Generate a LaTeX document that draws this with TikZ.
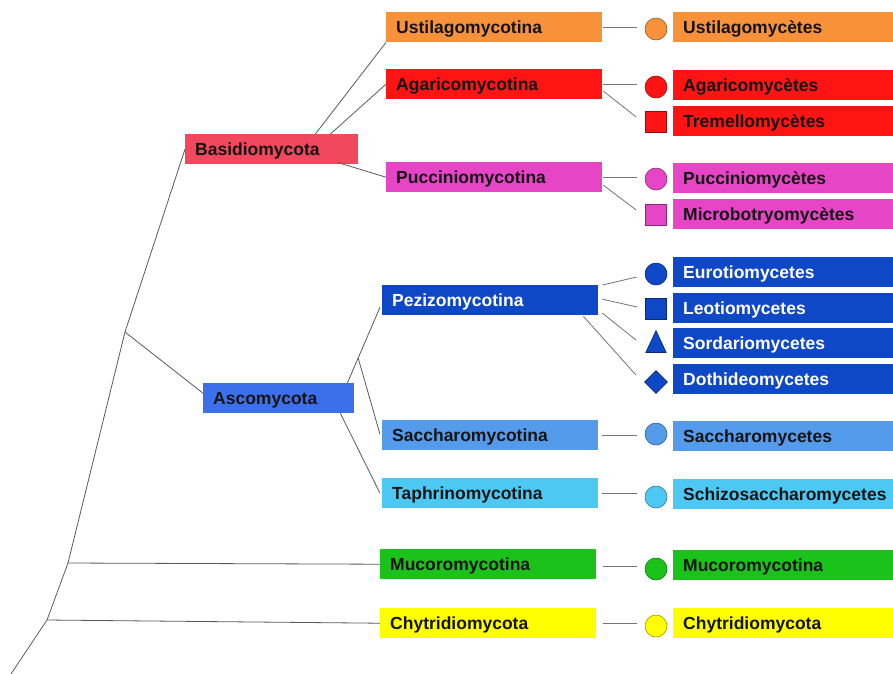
\documentclass[tikz,border=0pt]{standalone}
\usepackage{fontspec}
\setmainfont{Liberation Sans}
\usetikzlibrary{shapes.geometric,calc}
\definecolor{cOra}{HTML}{F7923A}
\definecolor{cRed}{HTML}{FF1414}
\definecolor{cMag}{HTML}{E646C6}
\definecolor{cBas}{HTML}{F2485D}
\definecolor{cDbl}{HTML}{0F48C6}
\definecolor{cAsc}{HTML}{3C70EA}
\definecolor{cSac}{HTML}{559BEB}
\definecolor{cTap}{HTML}{4DC8F2}
\definecolor{cGrn}{HTML}{1AC21A}
\definecolor{cYel}{HTML}{FFFF00}
\definecolor{cLine}{HTML}{5A5A5A}
\definecolor{cTxt}{HTML}{141414}
\begin{document}
\begin{tikzpicture}[x=1pt,y=-1pt,
  lab/.style={anchor=north west, inner xsep=10pt, inner ysep=0pt, minimum height=30pt,
    align=left, text=cTxt, font=\bfseries\fontsize{17.5}{21}\selectfont,
    text height=14.8pt, text depth=1.4pt},
  mid/.style={lab, text width=196pt},
  rgt/.style={lab, text width=200pt},
  sym/.style={inner sep=0pt, line width=0.6pt},
  dot/.style={sym, circle, minimum size=22pt, fill=#1, draw=#1!60!black},
  sq/.style={sym, rectangle, minimum size=21pt, fill=#1, draw=#1!60!black},
  tri/.style={sym, isosceles triangle, isosceles triangle apex angle=50,
    shape border rotate=90, minimum height=22pt, fill=#1, draw=#1!60!black},
  dia/.style={sym, diamond, minimum size=23pt, fill=#1, draw=#1!60!black},
  tree/.style={draw=cLine, line width=0.8pt},
  conn/.style={draw=cLine!85, line width=0.8pt}]
\fill[white] (0,0) rectangle (893,673);
\useasboundingbox (0,0) rectangle (893,673);

% middle column
\node[mid, fill=cOra] (m1) at (386,12) {Ustilagomycotina};
\node[mid, fill=cRed] (m2) at (386,69) {Agaricomycotina};
\node[mid, fill=cMag] (m3) at (386,162) {Pucciniomycotina};
\node[lab, text width=153pt, fill=cBas] (bas) at (185,134) {Basidiomycota};
\node[mid, fill=cDbl, text=white] (m4) at (382,285) {Pezizomycotina};
\node[lab, text width=131pt, fill=cAsc] (asc) at (203,383) {Ascomycota};
\node[mid, fill=cSac] (m5) at (382,420) {Saccharomycotina};
\node[mid, fill=cTap] (m6) at (382,478) {Taphrinomycotina};
\node[mid, fill=cGrn] (m7) at (380,549) {Mucoromycotina};
\node[mid, fill=cYel] (m8) at (380,608) {Chytridiomycota};

% right column
\node[rgt, fill=cOra] (r1) at (673,12) {Ustilagomycètes};
\node[rgt, fill=cRed] (r2) at (673,70) {Agaricomycètes};
\node[rgt, fill=cRed] (r3) at (673,106) {Tremellomycètes};
\node[rgt, fill=cMag] (r4) at (673,163) {Pucciniomycètes};
\node[rgt, fill=cMag] (r5) at (673,199) {Microbotryomycètes};
\node[rgt, fill=cDbl, text=white] (r6) at (673,257) {Eurotiomycetes};
\node[rgt, fill=cDbl, text=white] (r7) at (673,293) {Leotiomycetes};
\node[rgt, fill=cDbl, text=white] (r8) at (673,328) {Sordariomycetes};
\node[rgt, fill=cDbl, text=white] (r9) at (673,364) {Dothideomycetes};
\node[rgt, fill=cSac] (r10) at (673,421) {Saccharomycetes};
\node[rgt, fill=cTap] (r11) at (673,479) {Schizosaccharomycetes};
\node[rgt, fill=cGrn] (r12) at (673,550) {Mucoromycotina};
\node[rgt, fill=cYel] (r13) at (673,608) {Chytridiomycota};

% symbols
\node[dot=cOra] (s1) at (656,29) {};
\node[dot=cRed] (s2) at (656,87) {};
\node[sq=cRed] (s3) at (656,122) {};
\node[dot=cMag] (s4) at (656,179) {};
\node[sq=cMag] (s5) at (656,215) {};
\node[dot=cDbl] (s6) at (656,274) {};
\node[sq=cDbl] (s7) at (656,309) {};
\node[tri=cDbl] (s8) at (656,346) {};
\node[dia=cDbl] (s9) at (656,382) {};
\node[dot=cSac] (s10) at (656,434) {};
\node[dot=cTap] (s11) at (656,497) {};
\node[dot=cGrn] (s12) at (656,569) {};
\node[dot=cYel] (s13) at (656,626) {};

% connectors to symbols
\draw[conn] ([xshift=1pt]m1.east) -- ([xshift=-8pt]m1.east -| s1.west);
\draw[conn] ([xshift=1pt]m2.east) -- ([xshift=-8pt]m2.east -| s2.west);
\draw[conn] ($(m2.east)+(1,7)$) -- ($(s3.west)+(-9,-5)$);
\draw[conn] ([xshift=1pt]m3.east) -- ([xshift=-8pt]m3.east -| s4.west);
\draw[conn] ($(m3.east)+(1,8)$) -- ($(s5.west)+(-9,-5)$);
\draw[conn] ($(m4.north east)+(4,0)$) -- ($(s6.west)+(-8,3)$);
\draw[conn] ($(m4.east)+(4,-1)$) -- ($(s7.west)+(-8,-2)$);
\draw[conn] ($(m4.east)+(4,13)$) -- ($(s8.center)+(-20,-6)$);
\draw[conn] ($(m4.south east)+(-15,1)$) -- ($(s9.center)+(-20,-7)$);
\draw[conn] ([xshift=4pt]m5.east) -- ([xshift=-8pt]m5.east -| s10.west);
\draw[conn] ([xshift=4pt]m6.east) -- ([xshift=-8pt]m6.east -| s11.west);
\draw[conn] ($(m7.east)+(7,2)$) -- ($(m7.east -| s12.west)+(-8,2)$);
\draw[conn] ([xshift=7pt]m8.east) -- ([xshift=-8pt]m8.east -| s13.west);

% tree
\coordinate (root) at (11,674);
\coordinate (c1) at (47,620);
\coordinate (c2) at (68,563);
\coordinate (c3) at (125,332);
\draw[tree] (root) -- (c1) -- (c2) -- (c3) -- (bas.west);
\draw[tree] (c3) -- ($(asc.west)+(0,-5)$);
\draw[tree] (c2) -- (m7.west);
\draw[tree] (c1) -- (m8.west);
\draw[tree] ($(bas.north east)+(-43,0)$) -- (m1.south west);
\draw[tree] ($(bas.north east)+(-28,0)$) -- (m2.west);
\draw[tree] ($(bas.south east)+(-21,-2)$) -- (m3.west);
\coordinate (a1) at ($(asc.north east)+(-7,0)$);
\coordinate (a2) at ($(m4.west)+(-2,7)$);
\coordinate (j) at ($(a1)!0.33!(a2)$);
\draw[tree] (a1) -- (a2);
\draw[tree] (j) -- ($(m5.west)+(-2,-1)$);
\draw[tree] ($(asc.south east)+(-14,0)$) -- ($(m6.west)+(-2,0)$);
\end{tikzpicture}
\end{document}
